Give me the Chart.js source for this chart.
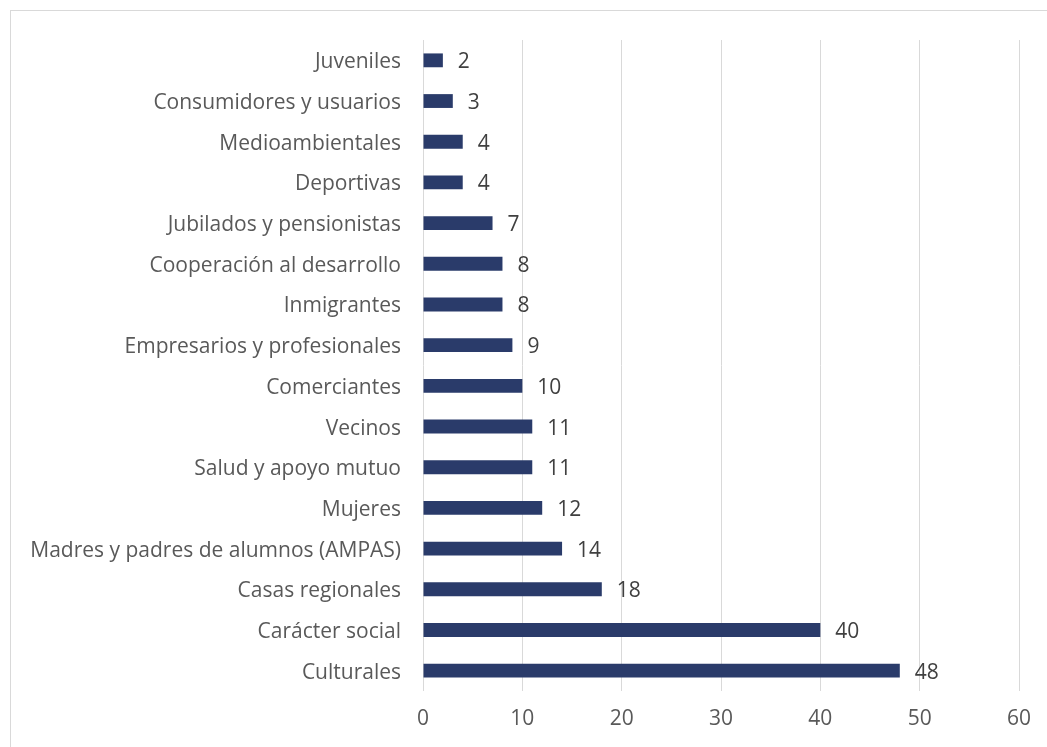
<!DOCTYPE html>
<html>
<head>
<meta charset="utf-8">
<script src="https://cdn.jsdelivr.net/npm/chart.js@4"></script>
<style>
  html, body { margin: 0; padding: 0; background: #fff; overflow: hidden; }
  #frame { position: absolute; left: 10px; top: 10px; width: 1100px; height: 800px; border: 1px solid #d9d9d9; }
  #wrap { position: absolute; left: 0; top: 0; width: 1047px; height: 747px; }
</style>
</head>
<body>
<div id="frame"></div>
<div id="wrap"><canvas id="chart" width="1047" height="747"></canvas></div>
<script>
// categorías (de arriba a abajo)
const categories = [
  'Juveniles', 'Consumidores y usuarios', 'Medioambientales', 'Deportivas',
  'Jubilados y pensionistas', 'Cooperación al desarrollo', 'Inmigrantes',
  'Empresarios y profesionales', 'Comerciantes', 'Vecinos', 'Salud y apoyo mutuo',
  'Mujeres', 'Madres y padres de alumnos (AMPAS)', 'Casas regionales',
  'Carácter social', 'Culturales'
]
const counts = [2, 3, 4, 4, 7, 8, 8, 9, 10, 11, 11, 12, 14, 18, 40, 48]
const xTicks = [0, 10, 20, 30, 40, 50, 60]

const FONT = '"Open Sans", sans-serif'

// etiquetas de valor al final de cada barra
const valueLabels = {
  id: 'valueLabels',
  afterDatasetsDraw(chart) {
    const ctx = chart.ctx
    const meta = chart.getDatasetMeta(0)
    ctx.save()
    ctx.font = '21px ' + FONT
    ctx.fillStyle = '#404040'
    ctx.textAlign = 'left'
    ctx.textBaseline = 'middle'
    meta.data.forEach((bar, i) => {
      ctx.fillText(String(counts[i]), bar.x + 15, bar.y + 2)
    })
    ctx.restore()
  }
}

new Chart(document.getElementById('chart'), {
  type: 'bar',
  data: {
    labels: categories,
    datasets: [{
      data: counts,
      backgroundColor: '#2a3b6a',
      borderWidth: 0,
      barPercentage: 0.68,
      categoryPercentage: 0.5
    }]
  },
  options: {
    indexAxis: 'y',
    responsive: false,
    animation: false,
    devicePixelRatio: 1,
    layout: {padding: {top: 40, right: 28, bottom: 0, left: 0}},
    plugins: {legend: {display: false}, tooltip: {enabled: false}},
    scales: {
      x: {
        min: 0,
        max: 60,
        afterBuildTicks: scale => { scale.ticks = xTicks.map(v => ({value: v})) },
        afterFit: scale => { scale.height = 56 },
        grid: {color: '#d9d9d9', lineWidth: 1, drawTicks: false},
        border: {display: false},
        ticks: {color: '#595959', font: {family: FONT, size: 21}, padding: 15}
      },
      y: {
        afterFit: scale => { scale.width = 423 },
        grid: {display: false, drawTicks: false},
        border: {display: false},
        ticks: {color: '#595959', font: {family: FONT, size: 21}, padding: 22, labelOffset: 2, autoSkip: false}
      }
    }
  },
  plugins: [valueLabels]
})
</script>
</body>
</html>
